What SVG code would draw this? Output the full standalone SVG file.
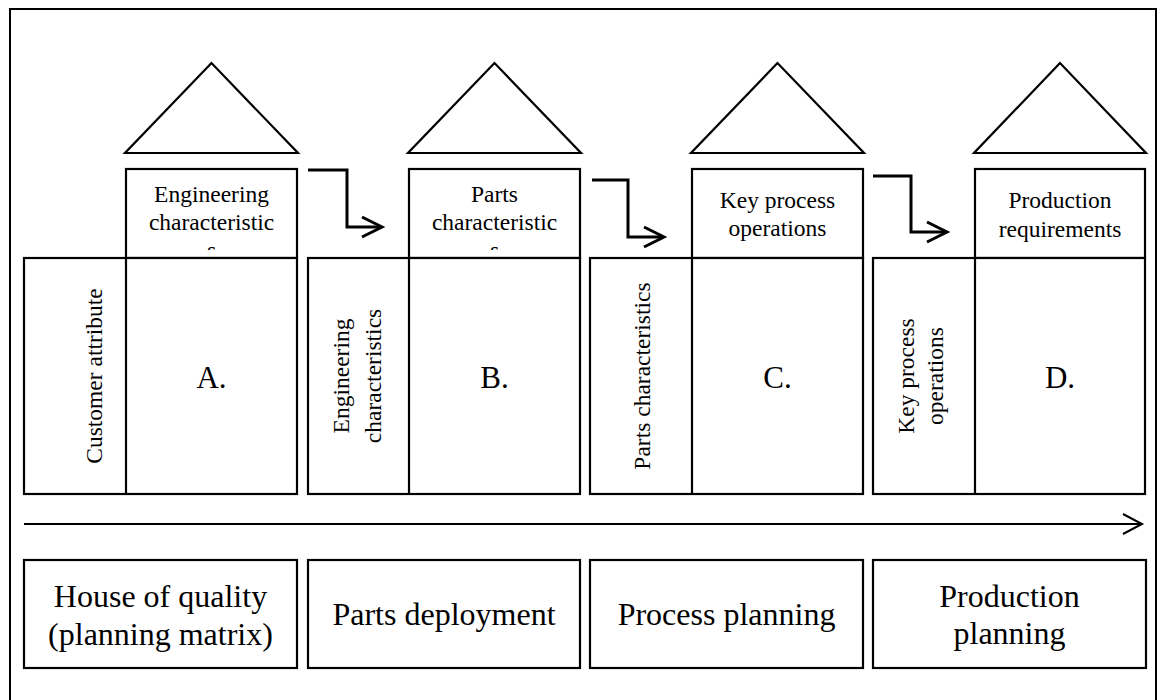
<svg xmlns="http://www.w3.org/2000/svg" width="1158" height="700" viewBox="0 0 1158 700">
  <style>
    .frame { fill: none; stroke: #000; stroke-width: 2; }
    .box { fill: #fff; stroke: #000; stroke-width: 2.2; }
    .roof { fill: #fff; stroke: #000; stroke-width: 2.2; stroke-linejoin: miter; }
    .div { stroke: #000; stroke-width: 2.2; }
    .flow { fill: none; stroke: #000; stroke-width: 3; stroke-linejoin: miter; }
    .time { fill: none; stroke: #000; stroke-width: 2; }
    text { font-family: "Liberation Serif", "Times New Roman", serif; fill: #000; text-anchor: middle; }
    .lbl { font-size: 23.5px; }
    .big { font-size: 31px; }
    .phase { font-size: 32px; }
  </style>
  <defs>
    <clipPath id="clip-a"><rect x="126" y="169" width="171" height="81"/></clipPath>
    <clipPath id="clip-b"><rect x="409" y="169" width="171" height="81"/></clipPath>
  </defs>

  <rect x="0" y="0" width="1158" height="700" fill="#fff"/>
  <!-- outer border -->
  <path class="frame" d="M10,700 V9 H1156 V700"/>

  <!-- stage A: house of quality -->
  <g id="stage-a">
    <polygon class="roof" points="211.5,63 125,153 298,153"/>
    <rect class="box" x="126" y="169" width="171" height="89"/>
    <rect class="box" x="24" y="258" width="273" height="236"/>
    <line class="div" x1="126" y1="258" x2="126" y2="494"/>
    <text class="lbl" clip-path="url(#clip-a)"><tspan x="211.5" y="202">Engineering</tspan><tspan x="211.5" y="230">characteristic</tspan><tspan x="211.5" y="258">s</tspan></text>
    <text class="lbl" transform="translate(102,376) rotate(-90)">Customer attribute</text>
    <text class="big" x="211.5" y="388">A.</text>
  </g>

  <!-- stage B: parts deployment -->
  <g id="stage-b">
    <polygon class="roof" points="494.5,63 408,153 581,153"/>
    <rect class="box" x="409" y="169" width="171" height="89"/>
    <rect class="box" x="308" y="258" width="272" height="236"/>
    <line class="div" x1="409" y1="258" x2="409" y2="494"/>
    <text class="lbl" clip-path="url(#clip-b)"><tspan x="494.5" y="202">Parts</tspan><tspan x="494.5" y="230">characteristic</tspan><tspan x="494.5" y="258">s</tspan></text>
    <text class="lbl" transform="translate(349,376) rotate(-90)">Engineering</text>
    <text class="lbl" transform="translate(381,376) rotate(-90)">characteristics</text>
    <text class="big" x="494.5" y="388">B.</text>
  </g>

  <!-- stage C: process planning -->
  <g id="stage-c">
    <polygon class="roof" points="777.5,63 691,153 864,153"/>
    <rect class="box" x="692" y="169" width="171" height="89"/>
    <rect class="box" x="590" y="258" width="273" height="236"/>
    <line class="div" x1="692" y1="258" x2="692" y2="494"/>
    <text class="lbl"><tspan x="777.5" y="208">Key process</tspan><tspan x="777.5" y="236">operations</tspan></text>
    <text class="lbl" transform="translate(650,376) rotate(-90)">Parts characteristics</text>
    <text class="big" x="777.5" y="388">C.</text>
  </g>

  <!-- stage D: production planning -->
  <g id="stage-d">
    <polygon class="roof" points="1060,63 974,153 1146,153"/>
    <rect class="box" x="975" y="169" width="170" height="89"/>
    <rect class="box" x="873" y="258" width="272" height="236"/>
    <line class="div" x1="975" y1="258" x2="975" y2="494"/>
    <text class="lbl"><tspan x="1060" y="208">Production</tspan><tspan x="1060" y="237">requirements</tspan></text>
    <text class="lbl" transform="translate(914,376) rotate(-90)">Key process</text>
    <text class="lbl" transform="translate(943,376) rotate(-90)">operations</text>
    <text class="big" x="1060" y="388">D.</text>
  </g>

  <!-- phase names -->
  <g id="phase-1">
    <rect class="box" x="24" y="560" width="273" height="108"/>
    <text class="phase"><tspan x="160.5" y="607">House of quality</tspan><tspan x="160.5" y="645">(planning matrix)</tspan></text>
  </g>
  <g id="phase-2">
    <rect class="box" x="308" y="560" width="272" height="108"/>
    <text class="phase" x="444" y="625">Parts deployment</text>
  </g>
  <g id="phase-3">
    <rect class="box" x="590" y="560" width="273" height="108"/>
    <text class="phase" x="726.5" y="625">Process planning</text>
  </g>
  <g id="phase-4">
    <rect class="box" x="873" y="560" width="273" height="108"/>
    <text class="phase"><tspan x="1009.5" y="607">Production</tspan><tspan x="1009.5" y="644">planning</tspan></text>
  </g>

  <!-- connectors -->
  <g id="connectors">
    <path class="flow" d="M308,170 H347 V227 H381"/>
    <path class="flow" d="M362,217 L382,227 L362,237"/>
    <path class="flow" d="M592,180 H628 V237 H663"/>
    <path class="flow" d="M644,227 L664,237 L644,247"/>
    <path class="flow" d="M873,176 H911 V232 H946"/>
    <path class="flow" d="M927,222 L947,232 L927,242"/>
    <path class="time" d="M24,524 H1141"/>
    <path class="time" d="M1123,514 L1142,524 L1123,534"/>
  </g>
</svg>
